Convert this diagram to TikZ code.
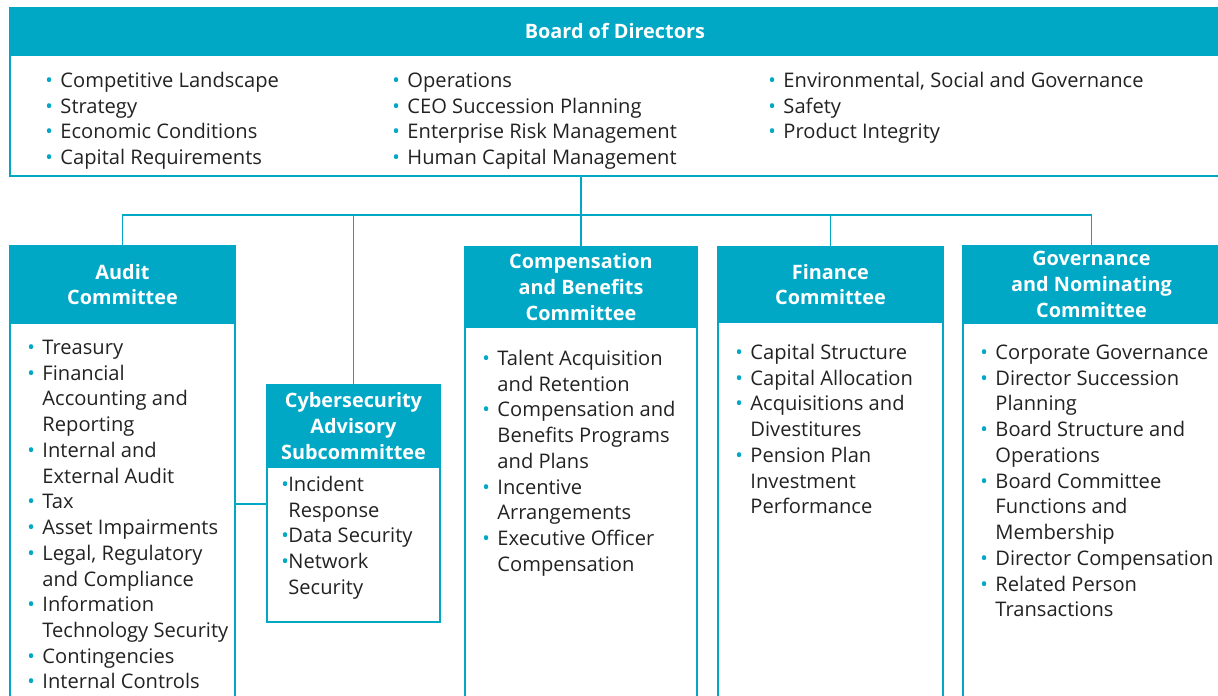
\documentclass[tikz,border=0pt]{standalone}
\usepackage{fontspec}
\setmainfont{Open Sans}
\usepackage{tikz}
\usetikzlibrary{positioning}
\definecolor{brand}{HTML}{00A8C6}
\definecolor{ink}{HTML}{222222}
\tikzstyle{head}=[rectangle,fill=brand,draw=brand,line width=1.6pt,text=white,font=\bfseries\fontsize{11.3}{14.65}\selectfont,align=center,inner sep=0pt,outer sep=0pt,anchor=north west]
\tikzstyle{body}=[rectangle,draw=brand,line width=1.6pt,inner sep=0pt,outer sep=0pt,anchor=north]
\tikzstyle{items}=[text=ink,font=\fontsize{11.45}{14.65}\selectfont,align=left,inner sep=0pt,anchor=north west]
\tikzstyle{link}=[draw=brand,line width=0.9pt]
\newcommand{\bul}[1][8.6pt]{\strut\makebox[#1][l]{\textcolor{brand}{\textbullet}}}
\newcommand{\cont}[1][8.6pt]{\hspace*{#1}}

\begin{document}
\begin{tikzpicture}[x=0.02cm,y=-0.02cm]
	\useasboundingbox (0,0) rectangle (1218,696);
	\clip (0,0) rectangle (1218,696);

	\node[head,minimum width=24.2cm,minimum height=0.94cm] (board) at (10,8) {Board of Directors};
	\node[body,minimum width=24.2cm,minimum height=2.42cm] (boardbody) at (board.south) {};
	\node[items] (b1) at (45,69) {\bul Competitive Landscape\\ \bul Strategy\\ \bul Economic Conditions\\ \bul Capital Requirements};
	\node[items] (b2) at (392,69) {\bul Operations\\ \bul CEO Succession Planning\\ \bul Enterprise Risk Management\\ \bul Human Capital Management};
	\node[items] (b3) at (768,69) {\bul Environmental, Social and Governance\\ \bul Safety\\ \bul Product Integrity};

	\node[head,minimum width=4.5cm,minimum height=1.54cm] (audit) at (10,246) {Audit\\ Committee};
	\node[body,minimum width=4.5cm,minimum height=7.94cm] (auditbody) at (audit.south) {};
	\node[items] (a1) at (27,336) {\bul Treasury\\ \bul Financial\\ \cont Accounting and\\ \cont Reporting\\ \bul Internal and\\ \cont External Audit\\ \bul Tax\\ \bul Asset Impairments\\ \bul Legal, Regulatory\\ \cont and Compliance\\ \bul Information\\ \cont Technology Security\\ \bul Contingencies\\ \bul Internal Controls};

	\node[head,minimum width=3.46cm,minimum height=1.64cm] (cyber) at (267,385) {Cybersecurity\\ Advisory\\ Subcommittee};
	\node[body,minimum width=3.46cm,minimum height=3.1cm] (cyberbody) at (cyber.south) {};
	\node[items] (c1) at (281,473) {\bul[4pt]Incident\\ \cont[4pt]Response\\ \bul[4pt]Data Security\\ \bul[4pt]Network\\ \cont[4pt]Security};

	\node[head,minimum width=4.64cm,minimum height=1.6cm] (comp) at (465,247) {Compensation\\ and Benefits\\ Committee};
	\node[body,minimum width=4.64cm,minimum height=7.86cm] (compbody) at (comp.south) {};
	\node[items] (p1) at (482,347) {\bul Talent Acquisition\\ \cont and Retention\\ \bul Compensation and\\ \cont Benefits Programs\\ \cont and Plans\\ \bul Incentive\\ \cont Arrangements\\ \bul Executive Officer\\ \cont Compensation};

	\node[head,minimum width=4.5cm,minimum height=1.5cm] (fin) at (718,247) {Finance\\ Committee};
	\node[body,minimum width=4.5cm,minimum height=7.96cm] (finbody) at (fin.south) {};
	\node[items] (f1) at (735,341) {\bul Capital Structure\\ \bul Capital Allocation\\ \bul Acquisitions and\\ \cont Divestitures\\ \bul Pension Plan\\ \cont Investment\\ \cont Performance};

	\node[head,minimum width=5.14cm,minimum height=1.54cm] (gov) at (963,246) {Governance\\ and Nominating\\ Committee};
	\node[body,minimum width=5.14cm,minimum height=7.94cm] (govbody) at (gov.south) {};
	\node[items] (g1) at (980,341) {\bul Corporate Governance\\ \bul Director Succession\\ \cont Planning\\ \bul Board Structure and\\ \cont Operations\\ \bul Board Committee\\ \cont Functions and\\ \cont Membership\\ \bul Director Compensation\\ \bul Related Person\\ \cont Transactions};

	\coordinate (bus) at (581,215);
	\coordinate (cyblink) at (250,504);
	\draw[link] (boardbody.south -| bus) -- (bus);
	\draw[link] (audit.north) |- (bus) -| (gov.north);
	\draw[link] (cyber.north) -- (cyber.north |- bus);
	\draw[link] (comp.north) -- (comp.north |- bus);
	\draw[link] (fin.north) -- (fin.north |- bus);
	\draw[link] (auditbody.east |- cyblink) -- (cyberbody.west |- cyblink);
\end{tikzpicture}
\end{document}
